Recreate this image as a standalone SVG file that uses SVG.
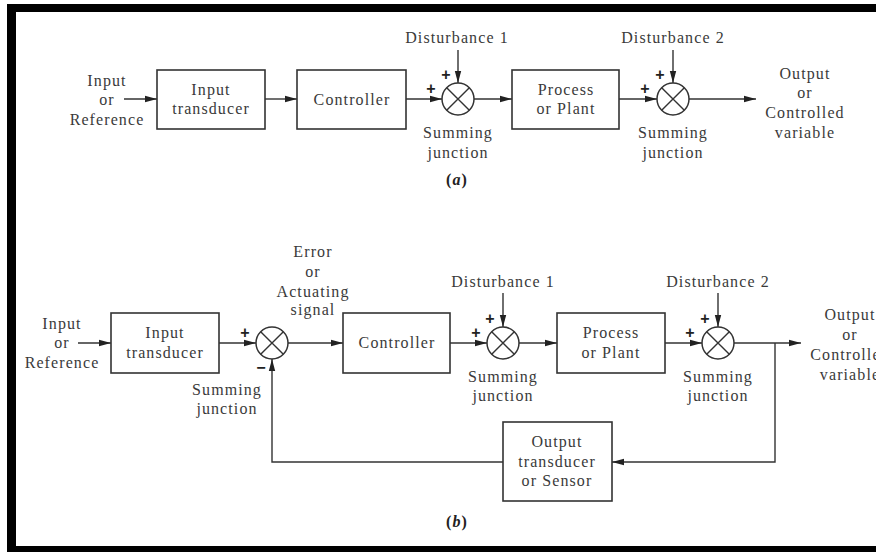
<svg xmlns="http://www.w3.org/2000/svg" width="876" height="552" viewBox="0 0 876 552">
<defs>
<marker id="ah" markerUnits="userSpaceOnUse" markerWidth="12" markerHeight="8" refX="12" refY="4" orient="auto">
<path d="M0,0.8 L12,4 L0,7.2 Z" fill="#222"/>
</marker>
<style>
text{font-family:"Liberation Serif","Times New Roman",serif;font-size:16px;fill:#3a3a3a;letter-spacing:1.1px;text-anchor:middle}
.sg{font-family:"Liberation Sans",Arial,sans-serif;font-size:16px;font-weight:bold;fill:#222;letter-spacing:0}
.box{fill:#fff;stroke:#333;stroke-width:1.6}
.sj{fill:#fff;stroke:#333;stroke-width:1.5}
.ln{fill:none;stroke:#333;stroke-width:1.4}
.ar{fill:none;stroke:#333;stroke-width:1.4;marker-end:url(#ah)}
.cap{font-weight:bold;fill:#222}
</style>
</defs>
<rect width="876" height="552" fill="#fff"/>
<rect x="7" y="4" width="869" height="8" fill="#000"/>
<rect x="7" y="4" width="9" height="548" fill="#000"/>
<rect x="7" y="546" width="869" height="6" fill="#000"/>

<g id="connectors">
<line class="ar" x1="124" y1="99" x2="157" y2="99"/>
<line class="ar" x1="265" y1="99" x2="297" y2="99"/>
<line class="ar" x1="406" y1="99" x2="442" y2="99"/>
<line class="ar" x1="458" y1="50" x2="458" y2="83"/>
<line class="ar" x1="474" y1="99" x2="512" y2="99"/>
<line class="ar" x1="619" y1="99" x2="657" y2="99"/>
<line class="ar" x1="673" y1="50" x2="673" y2="83"/>
<line class="ar" x1="689" y1="99" x2="756" y2="99"/>

<line class="ar" x1="78" y1="343" x2="111" y2="343"/>
<line class="ar" x1="219" y1="343" x2="256" y2="343"/>
<line class="ar" x1="288" y1="343" x2="343" y2="343"/>
<line class="ar" x1="450" y1="343" x2="487" y2="343"/>
<line class="ar" x1="503" y1="293" x2="503" y2="327"/>
<line class="ar" x1="519" y1="343" x2="557" y2="343"/>
<line class="ar" x1="665" y1="343" x2="702" y2="343"/>
<line class="ar" x1="718" y1="293" x2="718" y2="327"/>
<line class="ar" x1="734" y1="343" x2="801" y2="343"/>
<polyline class="ar" points="775,343 775,462 612,462"/>
<polyline class="ar" points="503,462 272,462 272,359"/>
</g>

<g id="a-input-label">
<text x="107" y="86">Input</text>
<text x="107" y="105">or</text>
<text x="107" y="125">Reference</text>
</g>
<g id="a-input-transducer">
<rect class="box" x="157" y="70" width="108" height="59"/>
<text x="211" y="95">Input</text>
<text x="211" y="114">transducer</text>
</g>
<g id="a-controller">
<rect class="box" x="297" y="70" width="109" height="59"/>
<text x="352" y="105">Controller</text>
</g>
<g id="a-sum1">
<circle class="sj" cx="458" cy="99" r="16"/>
<path class="ln" d="M446.7,87.7 L469.3,110.3 M469.3,87.7 L446.7,110.3"/>
<text class="sg" x="431" y="94">+</text>
<text class="sg" x="446" y="80">+</text>
<text x="457" y="43">Disturbance 1</text>
<text x="458" y="138">Summing</text>
<text x="458" y="158">junction</text>
</g>
<g id="a-process">
<rect class="box" x="512" y="70" width="107" height="59"/>
<text x="566" y="95">Process</text>
<text x="566" y="114">or Plant</text>
</g>
<g id="a-sum2">
<circle class="sj" cx="673" cy="99" r="16"/>
<path class="ln" d="M661.7,87.7 L684.3,110.3 M684.3,87.7 L661.7,110.3"/>
<text class="sg" x="645" y="94">+</text>
<text class="sg" x="660" y="80">+</text>
<text x="673" y="43">Disturbance 2</text>
<text x="673" y="138">Summing</text>
<text x="673" y="158">junction</text>
</g>
<g id="a-output-label">
<text x="805" y="79">Output</text>
<text x="805" y="98">or</text>
<text x="805" y="118">Controlled</text>
<text x="805" y="138">variable</text>
</g>
<text class="cap" x="457" y="185">(<tspan font-style="italic">a</tspan>)</text>

<g id="b-input-label">
<text x="62" y="329">Input</text>
<text x="62" y="348">or</text>
<text x="62" y="368">Reference</text>
</g>
<g id="b-input-transducer">
<rect class="box" x="111" y="313" width="108" height="60"/>
<text x="165" y="338">Input</text>
<text x="165" y="358">transducer</text>
</g>
<g id="b-sum0">
<circle class="sj" cx="272" cy="343" r="16"/>
<path class="ln" d="M260.7,331.7 L283.3,354.3 M283.3,331.7 L260.7,354.3"/>
<text class="sg" x="245" y="338">+</text>
<text class="sg" x="261" y="373">−</text>
<text x="227" y="395">Summing</text>
<text x="227" y="414">junction</text>
</g>
<g id="b-error-label">
<text x="313" y="257">Error</text>
<text x="313" y="277">or</text>
<text x="313" y="297">Actuating</text>
<text x="313" y="315">signal</text>
</g>
<g id="b-controller">
<rect class="box" x="343" y="313" width="107" height="60"/>
<text x="397" y="348">Controller</text>
</g>
<g id="b-sum1">
<circle class="sj" cx="503" cy="343" r="16"/>
<path class="ln" d="M491.7,331.7 L514.3,354.3 M514.3,331.7 L491.7,354.3"/>
<text class="sg" x="476" y="338">+</text>
<text class="sg" x="490" y="324">+</text>
<text x="503" y="287">Disturbance 1</text>
<text x="503" y="382">Summing</text>
<text x="503" y="401">junction</text>
</g>
<g id="b-process">
<rect class="box" x="557" y="313" width="108" height="60"/>
<text x="611" y="338">Process</text>
<text x="611" y="358">or Plant</text>
</g>
<g id="b-sum2">
<circle class="sj" cx="718" cy="343" r="16"/>
<path class="ln" d="M706.7,331.7 L729.3,354.3 M729.3,331.7 L706.7,354.3"/>
<text class="sg" x="690" y="338">+</text>
<text class="sg" x="705" y="324">+</text>
<text x="718" y="287">Disturbance 2</text>
<text x="718" y="382">Summing</text>
<text x="718" y="401">junction</text>
</g>
<g id="b-output-label">
<text x="850" y="320">Output</text>
<text x="850" y="340">or</text>
<text x="850" y="360">Controlled</text>
<text x="850" y="380">variable</text>
</g>
<g id="b-sensor">
<rect class="box" x="503" y="422" width="109" height="79"/>
<text x="557" y="447">Output</text>
<text x="557" y="467">transducer</text>
<text x="557" y="486">or Sensor</text>
</g>
<text class="cap" x="457" y="527">(<tspan font-style="italic">b</tspan>)</text>
</svg>
